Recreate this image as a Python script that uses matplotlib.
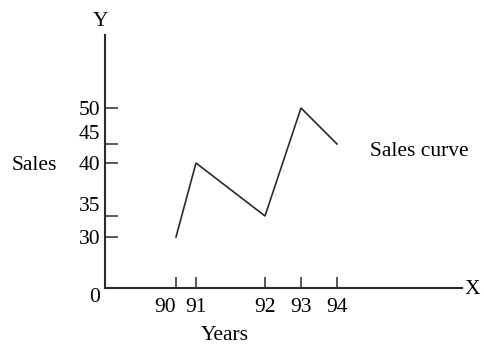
import matplotlib
matplotlib.use("Agg")
import matplotlib.pyplot as plt
import numpy as np

# data
years = [90, 91, 92, 93, 94]
sales = [30, 40, 35, 50, 45]
y_ticks = [0, 30, 35, 40, 45, 50]

# the original is a hand-drawn schematic with uneven spacing:
# piecewise-linear scales (value -> pixel offset along the axis)
X_VALS = [89, 90, 91, 92, 93, 94, 95]
X_POS = [0, 71, 91, 160, 196, 232, 357]
Y_VALS = [0, 30, 35, 40, 45, 50, 60]
Y_POS = [0, 51, 72, 125, 144, 180, 253]

W, H = 485, 345
INK = "#2b2b2b"
FONT = "Liberation Serif"
FS = 15.5

plt.rcParams["font.family"] = [FONT, "DejaVu Serif"]


def fx(px):
  return px / W


def fy(py):
  return 1 - py / H


fig = plt.figure(figsize=(W / 100, H / 100), dpi=100)
ax = fig.add_axes([fx(105), fy(288), (462 - 105) / W, (288 - 35) / H])

ax.set_xscale("function", functions=(lambda v: np.interp(v, X_VALS, X_POS),
                                     lambda p: np.interp(p, X_POS, X_VALS)))
ax.set_yscale("function", functions=(lambda v: np.interp(v, Y_VALS, Y_POS),
                                     lambda p: np.interp(p, Y_POS, Y_VALS)))
ax.set_xlim(X_VALS[0], X_VALS[-1])
ax.set_ylim(Y_VALS[0], Y_VALS[-1])

ax.plot(years, sales, color=INK, lw=1.2, solid_joinstyle="miter")

for side in ["top", "right"]:
  ax.spines[side].set_visible(False)
for side in ["left", "bottom"]:
  ax.spines[side].set_color(INK)
  ax.spines[side].set_linewidth(1.5)

ax.set_xticks(years, [str(v) for v in years])
ax.set_yticks(y_ticks, [str(v) for v in y_ticks])
ax.minorticks_off()
ax.tick_params(axis="x", direction="in", length=8, width=1.1, color=INK, pad=7, labelsize=FS)
ax.tick_params(axis="y", direction="in", length=9.5, width=1.1, color=INK, pad=3.5, labelsize=FS)
for lab in ax.get_yticklabels():
  if lab.get_text() in ("35", "45"):
    lab.set_verticalalignment("bottom")
  if lab.get_text() == "0":
    lab.set_verticalalignment("top")
# "90" sits to the left of its tick to make room for "91"
for lab in ax.get_xticklabels():
  if lab.get_text() == "90":
    lab.set_horizontalalignment("right")
ax.patch.set_visible(False)

fig.text(fx(101), fy(21), "Y", fontsize=FS, ha="center", va="center")
fig.text(fx(472), fy(289), "X", fontsize=FS, ha="center", va="center")
fig.text(fx(12), fy(165), "Sales", fontsize=FS, ha="left", va="center")
fig.text(fx(225), fy(336), "Years", fontsize=FS, ha="center", va="center")
fig.text(fx(370), fy(151), "Sales curve", fontsize=FS, ha="left", va="center")

fig.savefig("out.png", dpi=100)
